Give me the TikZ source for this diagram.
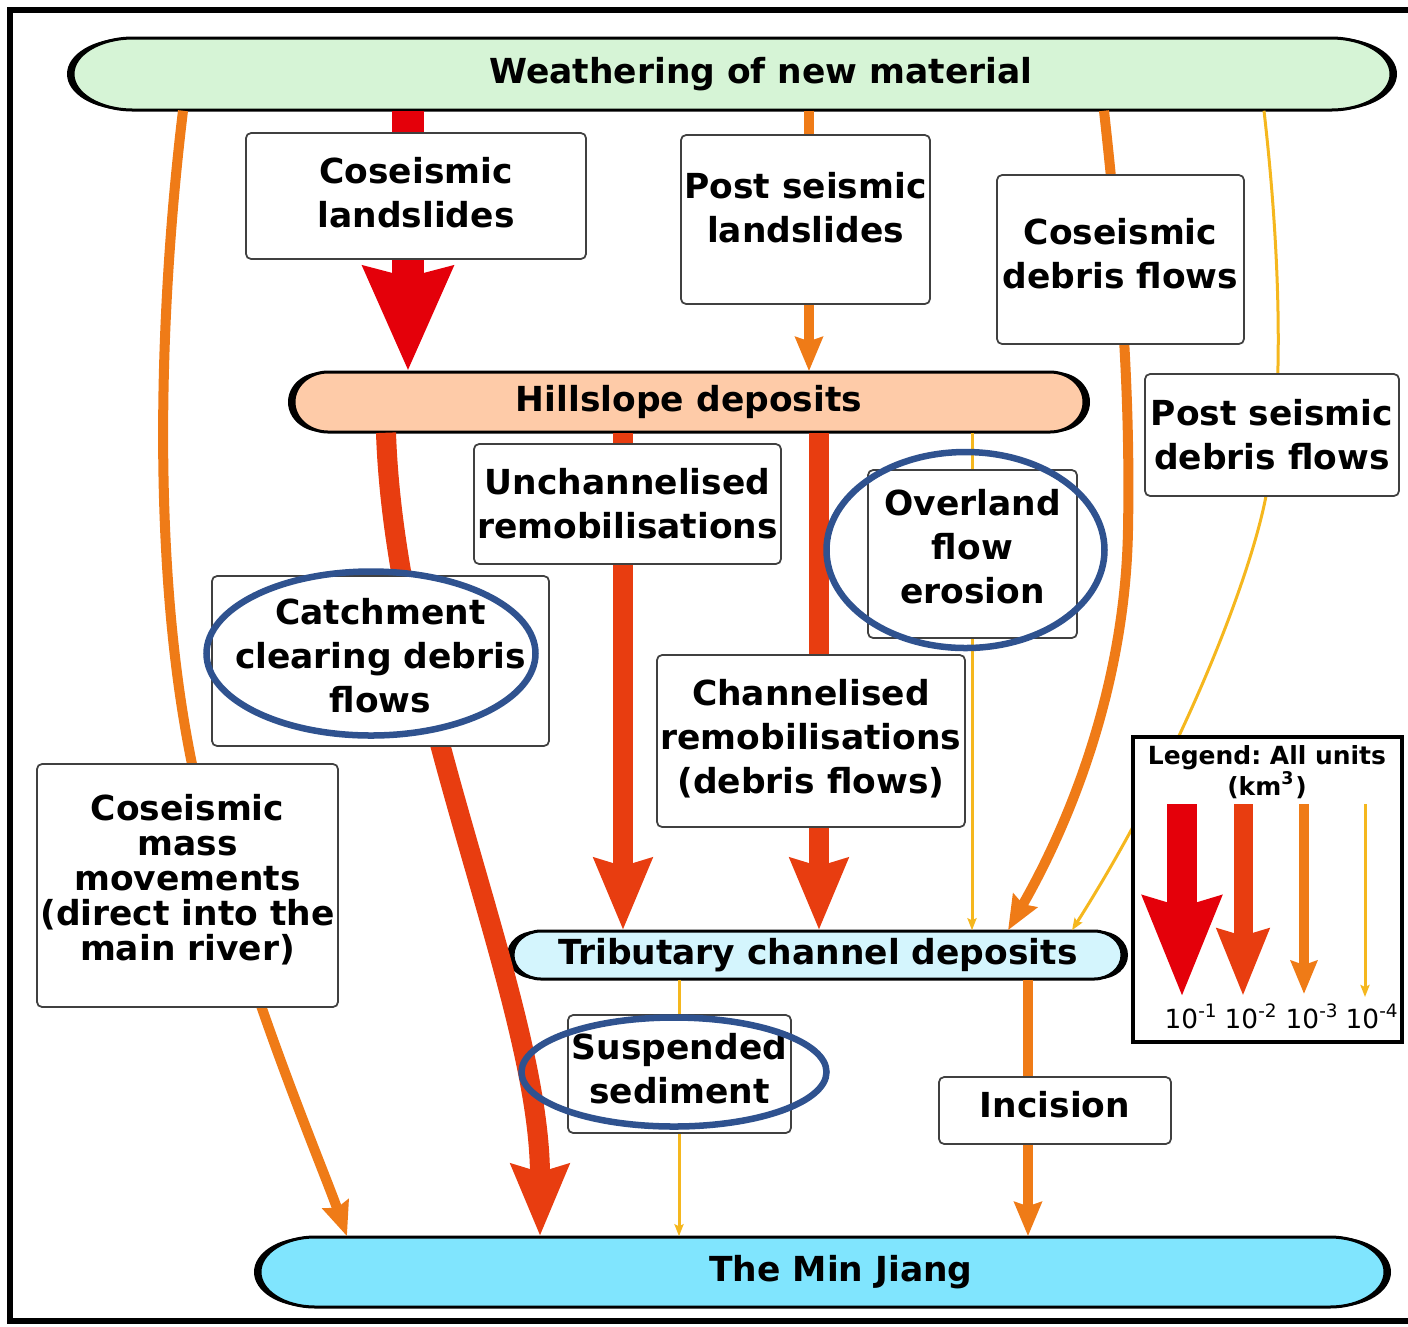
\documentclass[tikz,border=0pt]{standalone}
\usepackage{fontspec}
\setmainfont{DejaVu Sans}
\usepackage{tikz}
\usetikzlibrary{arrows.meta}
\definecolor{flowRed}{HTML}{E4000A}
\definecolor{flowScarlet}{HTML}{E83D10}
\definecolor{flowOrange}{HTML}{EF7B17}
\definecolor{flowYellow}{HTML}{F5B71E}
\definecolor{ringBlue}{HTML}{2F528F}
\definecolor{weatherGreen}{HTML}{D6F4D6}
\definecolor{hillPeach}{HTML}{FECBA8}
\definecolor{tribBlue}{HTML}{D4F5FD}
\definecolor{riverBlue}{HTML}{80E5FE}

% stadium with a black rim: left, right, centre y, x radius, y radius, fill
\newcommand{\pill}[6]{%
  \fill[black] (#1+#4-6,#3+#5) arc[start angle=90, end angle=270, x radius=#4, y radius=#5]
    -- (#2-#4+6,#3-#5) arc[start angle=-90, end angle=90, x radius=#4, y radius=#5] -- cycle;
  \draw[line width=0.03cm, fill=#6] (#1+#4,#3+#5) arc[start angle=90, end angle=270, x radius=#4, y radius=#5]
    -- (#2-#4,#3-#5) arc[start angle=-90, end angle=90, x radius=#4, y radius=#5] -- cycle;}

\begin{document}
\begin{tikzpicture}[x=0.01cm, y=-0.01cm,
    box/.style={draw=black!75, line width=0.5pt, rounded corners=1.5pt, fill=white, inner sep=0pt},
    boxlabel/.style={align=center, inner sep=0pt, font=\fontsize{9.8}{12.5}\selectfont\bfseries},
    pilltext/.style={inner sep=0pt, font=\fontsize{9.8}{12.5}\selectfont\bfseries},
    legtext/.style={inner sep=0pt, font=\fontsize{7.1}{8}\selectfont\bfseries},
    legnum/.style={inner sep=0pt, anchor=base west, font=\fontsize{7.5}{8}\selectfont},
    ring/.style={draw=ringBlue, line width=0.065cm},
    flowA/.style={draw=flowRed, line width=0.31cm,
                  -{Stealth[length=1.03cm, width=0.86cm, inset=0.09cm]}},
    flowB/.style={draw=flowScarlet, line width=0.2cm,
                  -{Stealth[length=0.71cm, width=0.56cm, inset=0.07cm]}},
    flowC/.style={draw=flowOrange, line width=0.1cm,
                  -{Stealth[length=0.34cm, width=0.27cm, inset=0.04cm]}},
    flowD/.style={draw=flowYellow, line width=0.03cm,
                  -{Stealth[length=0.12cm, width=0.09cm, inset=0.02cm]}},
    legA/.style={flowA, line width=0.29cm, -{Stealth[length=0.99cm, width=0.75cm, inset=0.09cm]}},
    legB/.style={flowB, line width=0.19cm, -{Stealth[length=0.66cm, width=0.50cm, inset=0.06cm]}},
    legC/.style={flowC, -{Stealth[length=0.33cm, width=0.26cm, inset=0.04cm]}},
  ]
  \useasboundingbox (0,0) rectangle (1408,1326);
  \draw[line width=0.065cm] (10,10) rectangle (1411,1321);

  % stores
  \pill{73}{1391}{74}{60}{36}{weatherGreen}
  \node[pilltext, minimum height=0.72cm] (weather) at (761,74) {Weathering of new material};
  \pill{294}{1084}{402}{34}{30}{hillPeach}
  \node[pilltext, minimum height=0.60cm] (hill) at (689,402) {Hillslope deposits};
  \pill{513}{1122}{955}{28}{24}{tribBlue}
  \node[pilltext, minimum height=0.48cm] (trib) at (818,955) {Tributary channel deposits};
  \pill{260}{1385}{1272}{55}{35}{riverBlue}
  \node[pilltext, minimum height=0.70cm] (river) at (841,1272) {The Min Jiang};

  % fluxes
  \draw[flowA] (408,0 |- weather.south) -- (408,0 |- hill.north);
  \draw[flowC] (809,0 |- weather.south) -- (809,0 |- hill.north);
  \draw[flowC] (1104,0 |- weather.south) .. controls (1125,300) and (1130,420) .. (1128,530)
    .. controls (1125,700) and (1060,840) .. (1008,0 |- trib.north);
  \draw[flowD] (1264,0 |- weather.south) .. controls (1280,250) and (1285,400) .. (1266,496)
    .. controls (1250,580) and (1180,760) .. (1072,0 |- trib.north);
  \draw[flowC] (183,0 |- weather.south) .. controls (160,300) and (150,560) .. (192,764)
    .. controls (230,950) and (320,1160) .. (347,0 |- river.north);
  \draw[flowB] (386,0 |- hill.south) .. controls (395,700) and (540,1000) .. (540,0 |- river.north);
  \draw[flowB] (623,0 |- hill.south) -- (623,0 |- trib.north);
  \draw[flowB] (819,0 |- hill.south) -- (819,0 |- trib.north);
  \draw[flowD] (972,0 |- hill.south) -- (972,0 |- trib.north);
  \draw[flowD] (679,0 |- trib.south) -- (679,0 |- river.north);
  \draw[flowC] (1028,0 |- trib.south) -- (1028,0 |- river.north);

  % processes
  \node[box, minimum width=3.40cm, minimum height=1.26cm,
        label={[boxlabel, yshift=0.03cm]center:{Coseismic\\landslides}}] (csl) at (416,196) {};
  \node[box, minimum width=2.49cm, minimum height=1.69cm,
        label={[boxlabel, yshift=0.12cm]center:{Post seismic\\landslides}}] (psl) at (805.5,219.5) {};
  \node[box, minimum width=2.47cm, minimum height=1.69cm,
        label={[boxlabel, yshift=0.06cm]center:{Coseismic\\debris flows}}] (cdf) at (1120.5,259.5) {};
  \node[box, minimum width=2.54cm, minimum height=1.22cm,
        label={[boxlabel]center:{Post seismic\\debris flows}}] (psdf) at (1272,435) {};
  \node[box, minimum width=3.07cm, minimum height=1.20cm,
        label={[boxlabel]center:{Unchannelised\\remobilisations}}] (unch) at (627.5,504) {};
  \node[box, minimum width=2.09cm, minimum height=1.68cm,
        label={[boxlabel, yshift=0.07cm]center:{Overland\\flow\\erosion}}] (ovl) at (972.5,554) {};
  \node[box, minimum width=3.37cm, minimum height=1.70cm,
        label={[boxlabel, yshift=0.05cm]center:{Catchment\\clearing debris\\flows}}] (ccdf) at (380.5,661) {};
  \node[box, minimum width=3.08cm, minimum height=1.72cm,
        label={[boxlabel, yshift=0.02cm]center:{Channelised\\remobilisations\\(debris flows)}}] (chan) at (811,741) {};
  \node[box, minimum width=3.01cm, minimum height=2.43cm,
        label={[boxlabel, yshift=0.06cm, font=\fontsize{9.8}{10}\selectfont\bfseries]center:%
        {Coseismic\\mass\\movements\\(direct into the\\main river)}}] (cmm) at (187.5,885.5) {};
  \node[box, minimum width=2.23cm, minimum height=1.18cm,
        label={[boxlabel, yshift=0.05cm]center:{Suspended\\sediment}}] (susp) at (679.5,1074) {};
  \node[box, minimum width=2.32cm, minimum height=0.67cm,
        label={[boxlabel, yshift=0.06cm]center:{Incision}}] (inc) at (1055,1110.5) {};

  % legend
  \node[draw, line width=0.035cm, fill=white, minimum width=2.69cm, minimum height=3.05cm,
        inner sep=0pt] (legend) at (1267.5,889.5) {};
  \node[legtext, anchor=base] (legtitle) at (1267,764) {Legend:\ All units};
  \node[legtext, anchor=base] (legunit) at (1267,795) {(km\textsuperscript{3})};
  \draw[legA] (1182,804) -- (1182,997);
  \draw[legB] (1243,804) -- (1243,996);
  \draw[legC] (1304,804) -- (1304,994);
  \draw[flowD] (1365,804) -- (1365,997);
  \node[legnum] (l1) at (1164,1028) {10\textsuperscript{-1}};
  \node[legnum] (l2) at (1224,1028) {10\textsuperscript{-2}};
  \node[legnum] (l3) at (1285,1028) {10\textsuperscript{-3}};
  \node[legnum] (l4) at (1345,1028) {10\textsuperscript{-4}};

  % highlighted processes
  \draw[ring] (965.5,550) ellipse[x radius=139, y radius=98];
  \draw[ring] (371,653.5) ellipse[x radius=164.5, y radius=82];
  \draw[ring] (674,1072) ellipse[x radius=152.5, y radius=54.5];
\end{tikzpicture}
\end{document}
